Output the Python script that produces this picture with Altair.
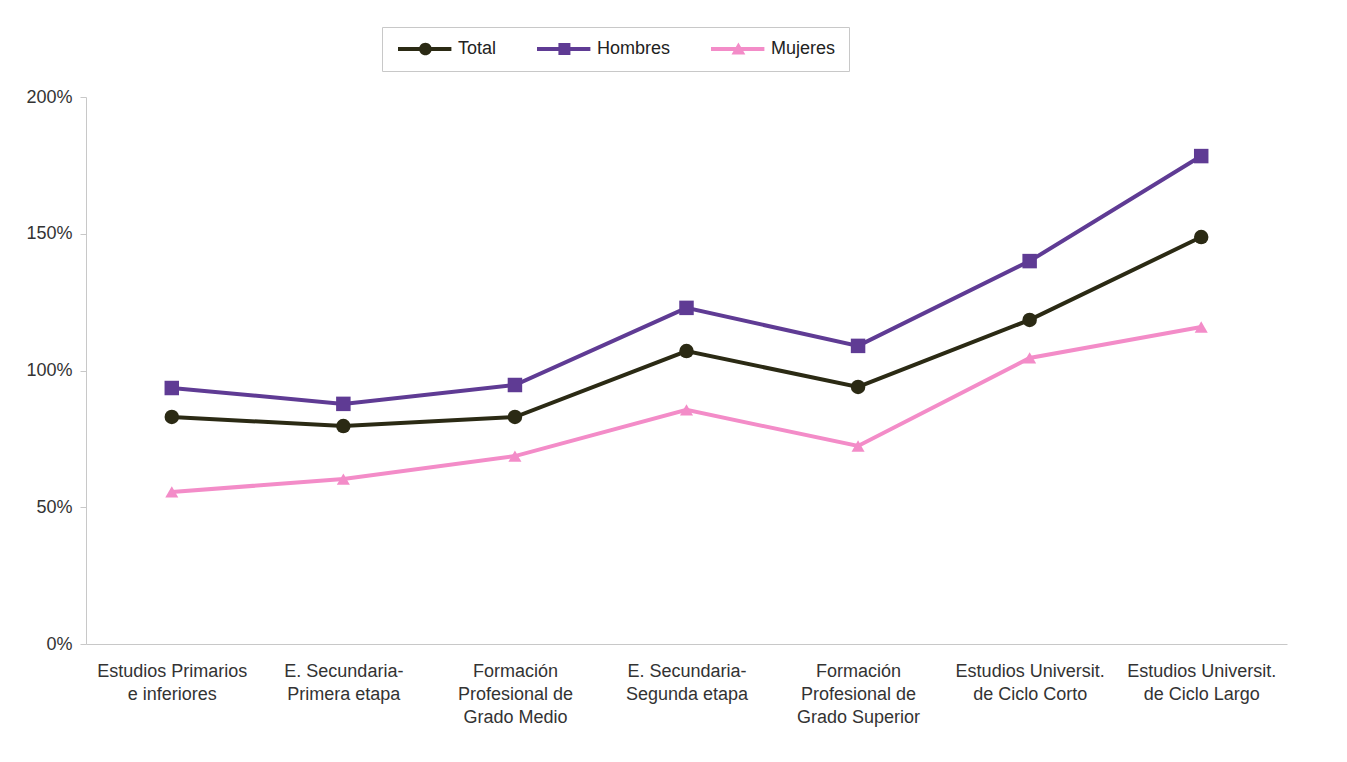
import altair as alt
import pandas as pd

categories = [
    "Estudios Primarios\ne inferiores",
    "E. Secundaria-\nPrimera etapa",
    "Formación\nProfesional de\nGrado Medio",
    "E. Secundaria-\nSegunda etapa",
    "Formación\nProfesional de\nGrado Superior",
    "Estudios Universit.\nde Ciclo Corto",
    "Estudios Universit.\nde Ciclo Largo",
]
series = ["Total", "Hombres", "Mujeres"]
total = [83.0, 79.7, 83.0, 107.1, 94.0, 118.5, 148.8]
hombres = [93.6, 87.8, 94.7, 122.9, 109.0, 140.0, 178.4]
mujeres = [55.6, 60.3, 68.7, 85.6, 72.4, 104.6, 115.9]
y_ticks = [0, 50, 100, 150, 200]

colors = ["#2b2a14", "#5f3b94", "#f38cc8"]
marker_shapes = ["circle", "square", "triangle-up"]
marker_sizes = [210, 210, 170]
line_widths = [4, 4, 3.5]

# legend symbols: line through marker (marker centred on the line segment)
bar = "M-1,-0.33L7.9,-0.33L7.9,0.33L-1,0.33Z"
legend_paths = [
    bar + "M2.52,0A1.05,1.05 0 1 1 4.62,0A1.05,1.05 0 1 1 2.52,0Z",
    bar + "M2.57,-1L4.57,-1L4.57,1L2.57,1Z",
    bar + "M3.57,-1.1L4.72,0.9L2.42,0.9Z",
]

rows = []
for s, vals in zip(series, [total, hombres, mujeres]):
    for c, v in zip(categories, vals):
        rows.append({"category": c, "series": s, "value": v})
df = pd.DataFrame(rows)

FONT = "Liberation Sans"

color_scale = alt.Scale(domain=series, range=colors)

x_enc = alt.X(
    "category:N",
    sort=categories,
    title=None,
    axis=alt.Axis(
        labelAngle=0,
        labelExpr="split(datum.value, '\\n')",
        labelLineHeight=23,
        labelPadding=18,
        labelFontSize=18,
        ticks=False,
        labelLimit=300,
    ),
)
y_enc = alt.Y(
    "value:Q",
    scale=alt.Scale(domain=[0, 200]),
    title=None,
    axis=alt.Axis(
        values=y_ticks,
        labelExpr="datum.value + '%'",
        labelFontSize=18,
        tickSize=6,
        labelPadding=8,
        grid=False,
    ),
)

base = alt.Chart(df).encode(x=x_enc, y=y_enc)

lines = base.mark_line().encode(
    color=alt.Color("series:N", scale=color_scale, legend=None),
    strokeWidth=alt.StrokeWidth(
        "series:N", scale=alt.Scale(domain=series, range=line_widths), legend=None
    ),
    detail="series:N",
)

point_layers = []
for s, shp, sz in zip(series, marker_shapes, marker_sizes):
    point_layers.append(
        base.mark_point(shape=shp, filled=True, size=sz, opacity=1)
        .encode(color=alt.Color("series:N", scale=color_scale, legend=None))
        .transform_filter(alt.datum.series == s)
    )

legend_def = dict(
    orient="none",
    legendX=296,
    legendY=-70,
    direction="horizontal",
    title=None,
    labelFontSize=18,
    labelFont=FONT,
    labelColor="#222222",
    symbolSize=144,
    symbolStrokeWidth=0,
    symbolOpacity=1,
    labelOffset=45,
    columnPadding=37,
    padding=13,
    strokeColor="#c8c8c8",
    fillColor="white",
)

legend_layer = (
    base.mark_point(filled=True, size=0, opacity=1)
    .encode(
        color=alt.Color("series:N", scale=color_scale, legend=alt.Legend(**legend_def)),
        shape=alt.Shape(
            "series:N",
            scale=alt.Scale(domain=series, range=legend_paths),
            legend=alt.Legend(**legend_def),
        ),
    )
)

chart = (
    alt.layer(lines, *point_layers, legend_layer)
    .resolve_legend(color="independent", shape="independent")
    .properties(
        width=1201,
        height=547,
        autosize=alt.AutoSizeParams(type="none"),
        padding={"left": 78, "top": 89, "right": 40, "bottom": 100},
        background="white",
    )
    .configure_view(stroke=None)
    .configure_axis(
        labelFont=FONT,
        labelColor="#333333",
        domainColor="#c8c8c8",
        tickColor="#c8c8c8",
    )
)

chart.save("out.html", embed_options={"renderer": "svg", "actions": False})
